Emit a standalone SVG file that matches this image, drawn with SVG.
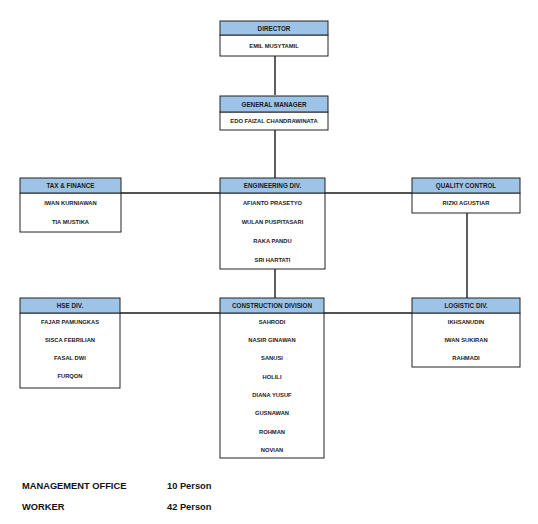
<svg xmlns="http://www.w3.org/2000/svg" width="538" height="524" viewBox="0 0 538 524">
<style>
.hd{fill:#9dc3e6;stroke:#222;stroke-width:1}
.bd{fill:#fff;stroke:#222;stroke-width:1}
.ln{stroke:#1a1a1a;stroke-width:1.4;fill:none}
.ht{font-family:"Liberation Sans",Arial,sans-serif;font-weight:bold;font-size:6.3px;fill:#1a1a1a;text-anchor:middle}
.nt{font-family:"Liberation Sans",Arial,sans-serif;font-weight:bold;font-size:5.8px;fill:#1a1a1a;text-anchor:middle}
.ft{font-family:"Liberation Sans",Arial,sans-serif;font-weight:bold;font-size:9.3px;fill:#111}
</style>
<rect width="538" height="524" fill="#fff"/>
<g id="connectors">
<line class="ln" x1="275" y1="56" x2="275" y2="95"/>
<line class="ln" x1="275" y1="130" x2="275" y2="178"/>
<line class="ln" x1="275" y1="269" x2="275" y2="298"/>
<line class="ln" x1="121" y1="193" x2="412" y2="193"/>
<line class="ln" x1="120" y1="313" x2="412" y2="313"/>
<line class="ln" x1="467" y1="213" x2="467" y2="298"/>
</g>
<g id="director">
<rect class="bd" x="220" y="35" width="108" height="21"/>
<rect class="hd" x="220" y="21" width="108" height="14"/>
<text class="ht" x="274" y="30.5">DIRECTOR</text>
<text class="nt" x="274" y="48">EMIL MUSYTAMIL</text>
</g>
<g id="general-manager">
<rect class="bd" x="220" y="112" width="108" height="18"/>
<rect class="hd" x="220" y="96" width="108" height="16"/>
<text class="ht" x="274" y="106.5">GENERAL MANAGER</text>
<text class="nt" x="274" y="123">EDO FAIZAL CHANDRAWINATA</text>
</g>
<g id="tax-finance">
<rect class="bd" x="20" y="193" width="101" height="39"/>
<rect class="hd" x="20" y="178" width="101" height="15"/>
<text class="ht" x="70.5" y="188">TAX &amp; FINANCE</text>
<text class="nt" x="70.5" y="205">IWAN KURNIAWAN</text>
<text class="nt" x="70.5" y="224">TIA MUSTIKA</text>
</g>
<g id="engineering">
<rect class="bd" x="220" y="193" width="105" height="76"/>
<rect class="hd" x="220" y="178" width="105" height="15"/>
<text class="ht" x="272.5" y="188">ENGINEERING DIV.</text>
<text class="nt" x="272.5" y="205">AFIANTO PRASETYO</text>
<text class="nt" x="272.5" y="224">WULAN PUSPITASARI</text>
<text class="nt" x="272.5" y="243">RAKA PANDU</text>
<text class="nt" x="272.5" y="262">SRI HARTATI</text>
</g>
<g id="quality-control">
<rect class="bd" x="412" y="193" width="108" height="20"/>
<rect class="hd" x="412" y="178" width="108" height="15"/>
<text class="ht" x="466" y="188">QUALITY CONTROL</text>
<text class="nt" x="466" y="205">RIZKI AGUSTIAR</text>
</g>
<g id="hse">
<rect class="bd" x="20" y="313" width="100" height="75"/>
<rect class="hd" x="20" y="298" width="100" height="15"/>
<text class="ht" x="70" y="308">HSE DIV.</text>
<text class="nt" x="70" y="324">FAJAR PAMUNGKAS</text>
<text class="nt" x="70" y="342">SISCA FEBRILIAN</text>
<text class="nt" x="70" y="360">FASAL DWI</text>
<text class="nt" x="70" y="378">FURQON</text>
</g>
<g id="construction">
<rect class="bd" x="220" y="313" width="104" height="145"/>
<rect class="hd" x="220" y="298" width="104" height="15"/>
<text class="ht" x="272" y="308">CONSTRUCTION DIVISION</text>
<text class="nt" x="272" y="324">SAHRODI</text>
<text class="nt" x="272" y="342">NASIR GINAWAN</text>
<text class="nt" x="272" y="360">SANUSI</text>
<text class="nt" x="272" y="379">HOLILI</text>
<text class="nt" x="272" y="397">DIANA YUSUF</text>
<text class="nt" x="272" y="415">GUSNAWAN</text>
<text class="nt" x="272" y="434">ROHMAN</text>
<text class="nt" x="272" y="452">NOVIAN</text>
</g>
<g id="logistic">
<rect class="bd" x="412" y="313" width="108" height="54"/>
<rect class="hd" x="412" y="298" width="108" height="15"/>
<text class="ht" x="466" y="308">LOGISTIC DIV.</text>
<text class="nt" x="466" y="324">IKHSANUDIN</text>
<text class="nt" x="466" y="342">IWAN SUKIRAN</text>
<text class="nt" x="466" y="360">RAHMADI</text>
</g>
<g id="summary">
<text class="ft" x="22" y="489">MANAGEMENT OFFICE</text>
<text class="ft" x="167" y="489">10 Person</text>
<text class="ft" x="22" y="510">WORKER</text>
<text class="ft" x="167" y="510">42 Person</text>
</g>
</svg>
